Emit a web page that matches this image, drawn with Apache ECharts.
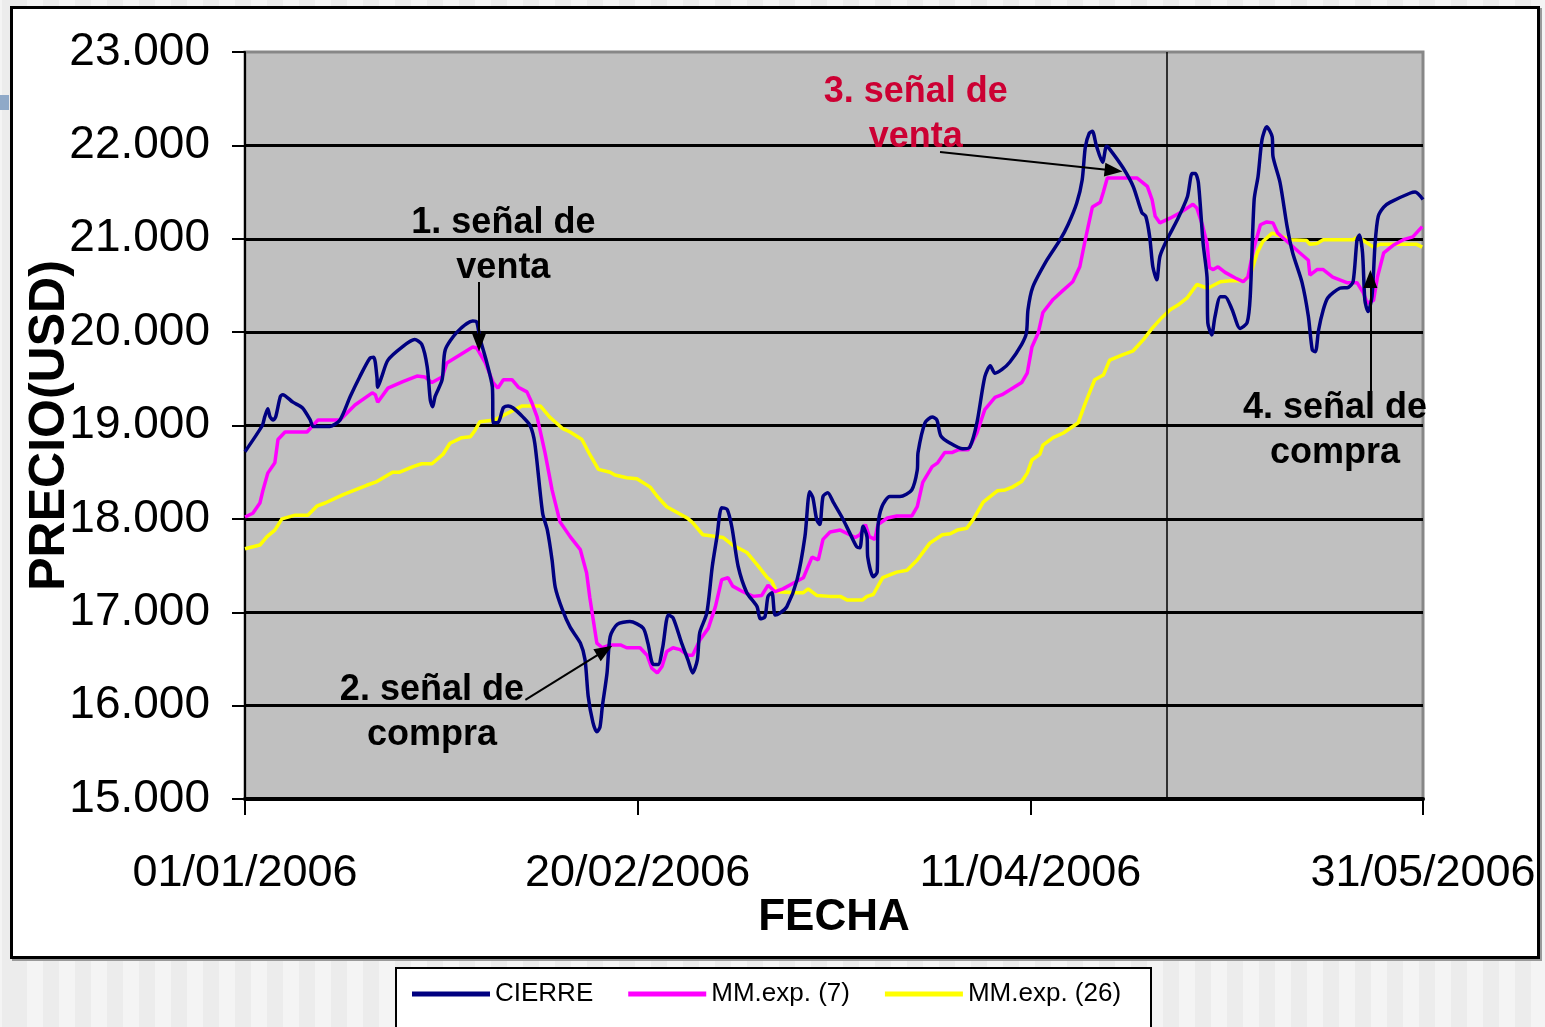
<!DOCTYPE html>
<html>
<head>
<meta charset="utf-8">
<title>CIERRE y medias móviles exponenciales</title>
<script src="https://cdn.jsdelivr.net/npm/echarts@6.0.0/dist/echarts.min.js"></script>
<style>
html,body{margin:0;padding:0;width:1545px;height:1027px;overflow:hidden;
  background:repeating-linear-gradient(90deg,#ececec 0 16px,#f4f4f4 16px 32px);background-position:11px 0;}
#marco{position:absolute;left:10px;top:6px;width:1524px;height:947px;background:#fff;border:3px solid #000;box-shadow:2px 2px 0 #9a9a9a;}
#caja{position:absolute;left:395px;top:967px;width:753px;height:80px;background:#fff;border:2px solid #000;}
#tab{position:absolute;left:0;top:95px;width:9px;height:15px;background:#8fa9c8;}
#chart{position:absolute;left:0;top:0;width:1545px;height:1027px;}
</style>
</head>
<body>
<div id="tab"></div>
<div id="marco"></div>
<div id="caja"></div>
<div id="chart"></div>
<script>
// dias desde 01/01/2006, precio
var cierre = [[0,18720],[2.2,19000],[2.5,19090],[2.9,19180],[3.2,19090],[3.6,19060],[3.9,19090],[4.5,19310],[4.8,19330],[6.1,19250],[7.3,19190],[8.3,19060],[8.7,18990],[10.8,18990],[12.1,19060],[13.4,19310],[14.6,19520],[15.9,19720],[16.4,19730],[16.8,19520],[16.9,19410],[17.4,19520],[18.2,19700],[20.0,19840],[21.6,19920],[22.5,19870],[23.2,19630],[23.6,19270],[23.9,19200],[24.2,19310],[25.1,19490],[25.5,19810],[27.0,20000],[29.0,20120],[29.5,20110],[29.9,19940],[30.8,19670],[31.5,19410],[31.6,19030],[32.2,19030],[32.9,19190],[33.5,19210],[34.1,19190],[35.4,19090],[36.3,19000],[36.9,18810],[37.9,18060],[38.5,17880],[39.1,17560],[39.5,17270],[40.4,17030],[41.4,16840],[42.7,16670],[43.3,16490],[43.7,16100],[44.3,15820],[44.8,15720],[45.2,15770],[45.5,15990],[46.1,16350],[46.5,16740],[47.4,16870],[49.0,16900],[50.7,16830],[51.3,16670],[52.0,16440],[52.6,16440],[53.2,16630],[53.9,16970],[54.5,16940],[55.6,16670],[56.4,16490],[57.0,16350],[57.6,16490],[57.9,16780],[58.8,16990],[59.5,17490],[60.1,17810],[60.7,18120],[61.4,18100],[62.0,17910],[62.8,17490],[63.9,17210],[65.2,17060],[65.6,16930],[66.2,16950],[66.6,17170],[67.1,17210],[67.5,16970],[68.1,16990],[69.0,17060],[70.3,17350],[71.3,17810],[71.9,18290],[72.3,18230],[72.8,17990],[73.2,17940],[73.6,18240],[74.2,18280],[74.9,18180],[76.0,18020],[77.0,17850],[77.9,17700],[78.3,17690],[78.7,17920],[79.2,17810],[79.3,17590],[80.0,17380],[80.5,17430],[80.6,17920],[81.1,18130],[82.1,18240],[83.4,18240],[84.9,18310],[85.6,18520],[85.7,18710],[86.6,19030],[87.5,19090],[88.1,19060],[88.6,18890],[89.8,18810],[91.4,18750],[92.3,18770],[93.2,19030],[94.2,19520],[94.9,19640],[95.5,19560],[96.4,19600],[97.4,19680],[98.9,19870],[99.5,19990],[99.7,20240],[100.3,20480],[102.1,20770],[103.8,20990],[104.8,21150],[105.9,21380],[106.6,21630],[107.0,21980],[107.5,22130],[107.9,22150],[108.4,22000],[109.2,21820],[109.7,21990],[110.1,21960],[111.8,21760],[113.1,21560],[114.2,21280],[114.7,21240],[115.2,21020],[115.6,20700],[116.1,20560],[116.5,20810],[117.4,20990],[118.7,21200],[120.0,21450],[120.6,21700],[121.0,21700],[121.4,21600],[122.0,20950],[122.5,20590],[122.6,20100],[123.1,19970],[123.5,20160],[124.2,20380],[124.8,20380],[125.7,20240],[126.7,20040],[127.6,20100],[128.0,20380],[128.5,21420],[129.0,21670],[129.5,22060],[130.1,22200],[130.8,22090],[130.9,21880],[131.8,21600],[132.7,21130],[133.4,20850],[134.6,20530],[135.4,20170],[135.9,19810],[136.3,19790],[136.7,20020],[137.3,20240],[137.9,20370],[139.4,20470],[140.5,20480],[141.1,20540],[141.6,20990],[141.9,21040],[142.3,20850],[142.6,20340],[143.0,20220],[143.5,20380],[143.9,20950],[144.3,21240],[145.0,21340],[145.8,21390],[148.4,21490],[149.0,21500],[150,21420]];

var mme7 = [[0,18020],[1.0,18060],[1.9,18170],[2.3,18310],[2.9,18490],[3.8,18600],[4.2,18850],[5.1,18930],[7.9,18930],[9.3,19060],[12.1,19060],[14.0,19220],[16.2,19350],[16.6,19330],[16.9,19250],[18.2,19400],[20.1,19470],[21.9,19530],[22.9,19520],[23.8,19460],[25.1,19520],[25.7,19670],[29.0,19840],[29.5,19830],[30.6,19670],[31.6,19460],[32.2,19400],[32.9,19490],[34.0,19490],[34.8,19410],[35.9,19360],[36.5,19250],[37.2,19090],[38.2,18710],[39.1,18310],[40.1,17970],[41.4,17810],[42.7,17670],[43.5,17420],[43.9,17160],[44.8,16670],[45.5,16620],[46.5,16650],[47.8,16650],[48.6,16620],[50.3,16620],[51.2,16540],[51.8,16400],[52.5,16350],[53.1,16420],[53.7,16580],[54.5,16620],[55.4,16600],[56.4,16540],[57.0,16540],[57.9,16700],[59.0,16830],[59.9,17060],[60.7,17350],[61.5,17370],[62.1,17280],[63.4,17220],[64.7,17170],[65.8,17180],[66.6,17290],[67.5,17220],[68.5,17250],[69.8,17310],[71.1,17370],[72.2,17590],[73.0,17560],[73.6,17780],[74.5,17860],[75.8,17880],[77.0,17830],[77.7,17800],[78.3,17830],[79.0,17940],[79.5,17810],[80.2,17780],[80.6,17940],[81.8,18010],[83.0,18030],[84.9,18030],[85.6,18130],[86.3,18390],[87.5,18560],[88.2,18600],[89.1,18710],[90.0,18710],[90.8,18740],[92.1,18740],[93.2,18920],[94.2,19170],[95.5,19300],[96.4,19330],[98.9,19460],[99.6,19560],[100.2,19840],[101.0,19990],[101.6,20210],[102.9,20350],[104.2,20450],[105.4,20540],[106.3,20700],[107.0,20990],[107.9,21340],[108.9,21390],[109.3,21500],[109.8,21650],[113.6,21650],[114.9,21560],[115.5,21420],[115.9,21240],[116.5,21170],[117.8,21220],[119.3,21290],[120.7,21370],[121.2,21330],[121.9,21150],[122.5,20950],[122.8,20690],[123.3,20670],[123.9,20700],[124.8,20640],[126.1,20580],[127.1,20540],[127.7,20590],[128.4,20880],[129.3,21150],[130.1,21180],[130.9,21170],[131.5,21060],[132.7,20970],[134.3,20850],[135.4,20770],[135.6,20610],[136.5,20670],[137.3,20670],[138.5,20590],[140.3,20530],[141.6,20530],[142.4,20420],[142.9,20310],[143.7,20340],[144.2,20590],[145.0,20850],[146.2,20930],[147.5,20990],[148.7,21020],[149.9,21130]];

var mme26 = [[0,17680],[1.9,17720],[2.8,17810],[3.8,17880],[4.7,18000],[6.4,18040],[8.0,18040],[9.2,18140],[10.2,18170],[12.5,18260],[15.5,18360],[16.8,18400],[18.8,18500],[19.7,18500],[21.4,18560],[22.5,18590],[23.8,18590],[25.2,18690],[26.1,18810],[27.6,18870],[28.7,18880],[29.3,18950],[29.9,19040],[31.8,19060],[33.4,19130],[35.3,19210],[37.6,19210],[38.8,19090],[40.4,18970],[41.4,18930],[42.9,18850],[43.9,18690],[45.0,18530],[46.5,18500],[47.1,18470],[48.6,18440],[49.9,18430],[51.6,18340],[52.5,18240],[53.7,18130],[56.3,18010],[57.0,17960],[58.3,17830],[60.9,17800],[62.1,17720],[63.9,17640],[65.2,17510],[66.5,17370],[67.1,17330],[67.7,17220],[70.3,17210],[71.1,17210],[71.7,17250],[72.8,17180],[74.5,17170],[75.8,17170],[76.7,17130],[78.6,17130],[79.2,17170],[80.0,17190],[81.2,17370],[83.0,17430],[84.3,17450],[85.6,17560],[87.2,17740],[88.8,17830],[89.8,17840],[90.7,17880],[91.9,17900],[92.7,17990],[94.0,18180],[95.8,18300],[96.8,18310],[97.7,18340],[98.9,18400],[99.6,18490],[100.2,18630],[101.2,18690],[101.6,18790],[102.9,18870],[104.2,18920],[106.1,19030],[107.0,19240],[108.2,19490],[109.3,19540],[110.1,19700],[111.8,19760],[113.1,19800],[114.4,19920],[115.5,20040],[116.8,20160],[117.8,20240],[118.8,20290],[120.0,20370],[121.2,20510],[122.6,20470],[124.2,20540],[125.4,20550],[127.1,20550],[128.0,20610],[128.9,20850],[129.6,20970],[130.8,21060],[131.5,21040],[133.1,20990],[135.2,20980],[135.6,20940],[136.5,20950],[137.3,20990],[141.1,20990],[141.7,21020],[142.6,20970],[143.7,20910],[144.5,20940],[149.2,20940],[149.9,20910]];

// señales: texto, posicion [dia, precio], color
var senales = [
  {name: '1. señal de\nventa', coord: [32.9, 20930], color: '#000'},
  {name: '2. señal de\ncompra', coord: [23.8, 15925], color: '#000'},
  {name: '3. señal de\nventa', coord: [85.4, 22325], color: '#cc0033'},
  {name: '4. señal de\ncompra', coord: [138.8, 18944], color: '#000'}
];
// flechas: desde, hasta
var flechas = [
  [[29.8, 20537], [29.8, 19890]],
  [[35.7, 16062], [45.8, 16590]],
  [[88.5, 21929], [110.6, 21730]],
  [[143.3, 19360], [143.3, 20570]]
];
var corte = 117.4; // linea vertical

var base = Date.UTC(2006, 0, 1);
function fecha(d) {
  var t = new Date(base + d * 86400000);
  var dd = ('0' + t.getUTCDate()).slice(-2);
  var mm = ('0' + (t.getUTCMonth() + 1)).slice(-2);
  return dd + '/' + mm + '/' + t.getUTCFullYear();
}

var chart = echarts.init(document.getElementById('chart'));
var fuente = '"Liberation Sans", Arial, sans-serif';

var lineas = [{xAxis: corte, lineStyle: {width: 1.5}}];
flechas.forEach(function (f) {
  lineas.push([{coord: f[0], symbol: 'none'}, {coord: f[1], symbol: 'triangle', symbolSize: [14, 18]}]);
});

chart.setOption({
  animation: false,
  textStyle: {fontFamily: fuente},
  grid: {left: 245, right: 122, top: 52, bottom: 228, show: true,
    backgroundColor: '#c0c0c0', borderColor: '#878787', borderWidth: 3},
  legend: {
    left: 412, top: 981, padding: 0, itemWidth: 78, itemHeight: 5, itemGap: 35,
    icon: 'rect',
    textStyle: {fontSize: 26, color: '#000', fontFamily: fuente},
    data: ['CIERRE', 'MM.exp. (7)', 'MM.exp. (26)']
  },
  xAxis: {
    type: 'value', min: 0, max: 150, interval: 50,
    name: 'FECHA', nameLocation: 'middle', nameGap: 97, nameMoveOverlap: false,
    nameTextStyle: {fontSize: 44, fontWeight: 'bold', color: '#000', fontFamily: fuente},
    axisLine: {onZero: false, lineStyle: {color: '#000', width: 4}},
    axisTick: {length: 16, lineStyle: {color: '#000', width: 2}},
    axisLabel: {fontSize: 45, color: '#000', margin: 52, formatter: fecha,
      showMinLabel: true, showMaxLabel: true, fontFamily: fuente},
    splitLine: {show: false}
  },
  yAxis: {
    type: 'value', min: 15000, max: 23000, interval: 1000,
    name: 'PRECIO(USD)', nameLocation: 'middle', nameGap: 170, nameRotate: 90,
    nameMoveOverlap: false,
    nameTextStyle: {fontSize: 50, fontWeight: 'bold', color: '#000', fontFamily: fuente},
    axisLine: {show: true, lineStyle: {color: '#000', width: 2}},
    axisTick: {show: true, length: 13, lineStyle: {color: '#000', width: 2}},
    axisLabel: {fontSize: 46, color: '#000', margin: 35, fontFamily: fuente,
      formatter: function (v) { return (v / 1000).toFixed(3); }},
    splitLine: {show: true, showMinLine: false, showMaxLine: false,
      lineStyle: {color: '#000', width: 3}}
  },
  series: [
    {
      name: 'CIERRE', type: 'line', data: cierre, showSymbol: false, smooth: 0.25,
      color: '#000080', lineStyle: {width: 3.5, color: '#000080'}, z: 4,
      markLine: {
        silent: true, animation: false, symbol: ['none', 'none'],
        label: {show: false},
        lineStyle: {color: '#000', width: 2, type: 'solid'},
        emphasis: {disabled: true},
        data: lineas
      },
      markPoint: {
        silent: true, symbol: 'circle', symbolSize: 1,
        itemStyle: {color: 'rgba(0,0,0,0)'},
        label: {show: true, position: 'inside', formatter: '{b}', fontSize: 36,
          fontWeight: 'bold', lineHeight: 45, align: 'center', fontFamily: fuente},
        data: senales.map(function (s) {
          return {name: s.name, coord: s.coord, label: {color: s.color}};
        })
      }
    },
    {
      name: 'MM.exp. (7)', type: 'line', data: mme7, showSymbol: false,
      color: '#ff00ff', lineStyle: {width: 3.5, color: '#ff00ff'}, z: 3
    },
    {
      name: 'MM.exp. (26)', type: 'line', data: mme26, showSymbol: false,
      color: '#ffff00', lineStyle: {width: 3.5, color: '#ffff00'}, z: 2
    }
  ]
});
</script>
</body>
</html>
